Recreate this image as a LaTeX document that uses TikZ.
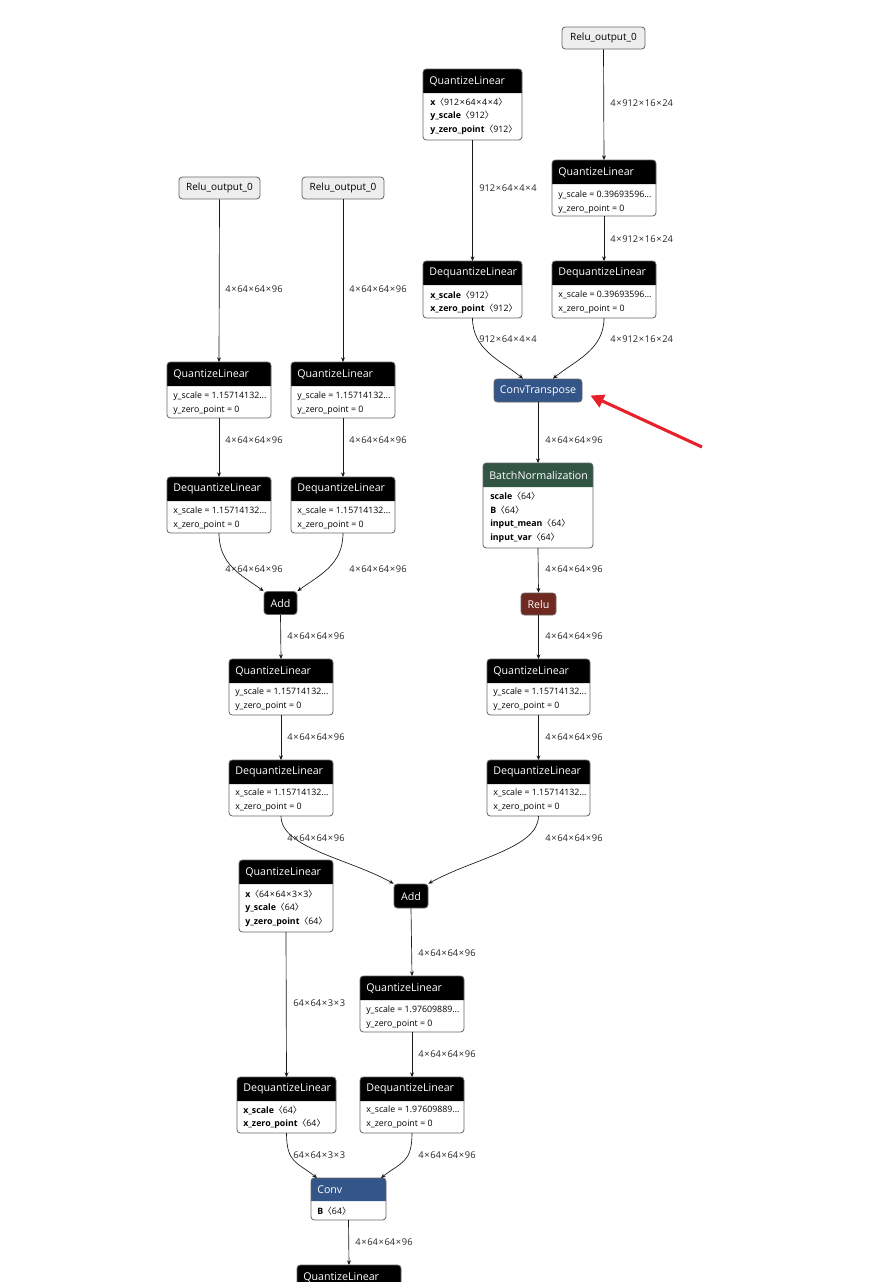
\documentclass[tikz,border=0pt]{standalone}
\usepackage{fontspec}
\setmainfont{Open Sans}
\newfontfamily\cjkf{Noto Sans CJK SC}
\usetikzlibrary{arrows.meta,calc}
\newcommand\myla{{\cjkf 〈}}
\newcommand\myra{{\cjkf 〉}}
\newcommand\tm{\hspace{0.5pt}×\hspace{0.5pt}}
\definecolor{convblue}{HTML}{335588}
\definecolor{normgreen}{HTML}{335544}
\definecolor{actred}{HTML}{702921}
\definecolor{framegray}{HTML}{666666}
\definecolor{inputgray}{HTML}{EEEEEE}
\definecolor{markred}{HTML}{E8202A}
\tikzset{
  opframe/.style={fill=white, draw=none, rounded corners=2.5pt, inner sep=0, outer sep=0},
  titletext/.style={font=\fontsize{8}{9}\selectfont, text=white, inner sep=0},
  attr/.style={font=\fontsize{6.6}{7}\selectfont, anchor=west, inner sep=0},
  elabel/.style={font=\fontsize{7}{8}\selectfont, anchor=west, inner sep=0, text=black!85},
  edge/.style={draw=black!90, line width=0.5pt, -{Stealth[length=3.5pt,width=3pt]}},
  inbox/.style={fill=inputgray, draw=framegray, line width=0.6pt, rounded corners=2.5pt, font=\fontsize{7.5}{9}\selectfont, inner sep=0},
  simplebox/.style={draw=framegray, line width=0.6pt, rounded corners=2.5pt, font=\fontsize{8}{9}\selectfont, text=white, inner sep=0},
  redarrow/.style={draw=markred, line width=2.3pt, -{Triangle[length=10pt,width=10pt]}},
}
% name, x1, y1, x2, yh, y2, colour, title
\newcommand\opbox[8]{%
  \node[opframe, minimum width={(#4-#2)*0.75pt}, minimum height={(#6-#3)*0.75pt}] (#1) at ({(#2+#4)/2},{(#3+#6)/2}) {};
  \fill[#7] (#2,#5) [rounded corners=2.5pt] -- (#2,#3) -- (#4,#3) [sharp corners] -- (#4,#5) -- cycle;
  \draw[framegray, line width=0.6pt, rounded corners=2.5pt] (#1.south west) rectangle (#1.north east);
  \node[titletext, anchor=west] (#1-t) at ({#2+6},{(#3+#5)/2}) {#8};
}
\begin{document}
\begin{tikzpicture}[x=0.75pt, y=-0.75pt]
\useasboundingbox (0,0) rectangle (881,1282);
\fill[white] (0,0) rectangle (881,1282);

% ---------- inputs ----------
\node[inbox, minimum width=83*0.75pt, minimum height=22*0.75pt] (rin1) at (603.5,38) {Relu\_output\_0};
\node[inbox, minimum width=81*0.75pt, minimum height=22*0.75pt] (rinA) at (219.5,188) {Relu\_output\_0};
\node[inbox, minimum width=82*0.75pt, minimum height=22*0.75pt] (rinB) at (343,188) {Relu\_output\_0};

% ---------- top right ----------
\opbox{qA}{423}{69}{522}{93}{140}{black}{QuantizeLinear}
\node[attr] (qA1) at (430,102) {\textbf{x}\myla 912\tm 64\tm 4\tm 4\myra};
\node[attr] (qA2) at (430,116) {\textbf{y\_scale}\myla 912\myra};
\node[attr] (qA3) at (430,130) {\textbf{y\_zero\_point}\myla 912\myra};

\opbox{qB}{552}{160}{656}{184}{216}{black}{QuantizeLinear}
\node[attr] (qB1) at (558,195) {y\_scale = 0.39693596...};
\node[attr] (qB2) at (558,209) {y\_zero\_point = 0};

\opbox{dA}{423}{261}{522}{285}{318}{black}{DequantizeLinear}
\node[attr] (dA1) at (430,295) {\textbf{x\_scale}\myla 912\myra};
\node[attr] (dA2) at (430,309) {\textbf{x\_zero\_point}\myla 912\myra};

\opbox{dB}{552}{261}{656}{285}{318}{black}{DequantizeLinear}
\node[attr] (dB1) at (558,295) {x\_scale = 0.39693596...};
\node[attr] (dB2) at (558,309) {x\_zero\_point = 0};

\node[simplebox, fill=convblue, minimum width=88*0.75pt, minimum height=23*0.75pt] (ct) at (538,390.5) {ConvTranspose};

\opbox{bn}{483}{463}{593}{487}{548}{normgreen}{BatchNormalization}
\node[attr] (bn1) at (490,496) {\textbf{scale}\myla 64\myra};
\node[attr] (bn2) at (490,510) {\textbf{B}\myla 64\myra};
\node[attr] (bn3) at (490,524) {\textbf{input\_mean}\myla 64\myra};
\node[attr] (bn4) at (490,538) {\textbf{input\_var}\myla 64\myra};

\node[simplebox, fill=actred, minimum width=35*0.75pt, minimum height=22*0.75pt] (relu) at (538.5,604) {Relu};

\opbox{qC}{487}{659}{590}{683}{715}{black}{QuantizeLinear}
\node[attr] (qC1) at (493,692) {y\_scale = 1.15714132...};
\node[attr] (qC2) at (493,706) {y\_zero\_point = 0};

\opbox{dC}{487}{760}{590}{784}{816}{black}{DequantizeLinear}
\node[attr] (dC1) at (493,793) {x\_scale = 1.15714132...};
\node[attr] (dC2) at (493,807) {x\_zero\_point = 0};

% ---------- left ----------
\opbox{qL1}{167}{362}{271}{386}{418}{black}{QuantizeLinear}
\node[attr] (qL1a) at (173,396) {y\_scale = 1.15714132...};
\node[attr] (qL1b) at (173,410) {y\_zero\_point = 0};
\opbox{qL2}{291}{362}{395}{386}{418}{black}{QuantizeLinear}
\node[attr] (qL2a) at (297,396) {y\_scale = 1.15714132...};
\node[attr] (qL2b) at (297,410) {y\_zero\_point = 0};

\opbox{dL1}{167}{477}{271}{501}{533}{black}{DequantizeLinear}
\node[attr] (dL1a) at (173,511) {x\_scale = 1.15714132...};
\node[attr] (dL1b) at (173,525) {x\_zero\_point = 0};
\opbox{dL2}{291}{477}{395}{501}{533}{black}{DequantizeLinear}
\node[attr] (dL2a) at (297,511) {x\_scale = 1.15714132...};
\node[attr] (dL2b) at (297,525) {x\_zero\_point = 0};

\node[simplebox, fill=black, minimum width=33*0.75pt, minimum height=23*0.75pt] (add1) at (280.5,603) {Add};

\opbox{qM}{229}{659}{333}{683}{715}{black}{QuantizeLinear}
\node[attr] (qMa) at (235,692) {y\_scale = 1.15714132...};
\node[attr] (qMb) at (235,706) {y\_zero\_point = 0};
\opbox{dM}{229}{760}{333}{784}{816}{black}{DequantizeLinear}
\node[attr] (dMa) at (235,793) {x\_scale = 1.15714132...};
\node[attr] (dMb) at (235,807) {x\_zero\_point = 0};

\node[simplebox, fill=black, minimum width=34*0.75pt, minimum height=24*0.75pt] (add2) at (411,896) {Add};

\opbox{qW}{239}{860}{333}{884}{932}{black}{QuantizeLinear}
\node[attr] (qWa) at (245,894) {\textbf{x}\myla 64\tm 64\tm 3\tm 3\myra};
\node[attr] (qWb) at (245,908) {\textbf{y\_scale}\myla 64\myra};
\node[attr] (qWc) at (245,922) {\textbf{y\_zero\_point}\myla 64\myra};

\opbox{qN}{360}{976}{464}{1000}{1032}{black}{QuantizeLinear}
\node[attr] (qNa) at (366,1010) {y\_scale = 1.97609889...};
\node[attr] (qNb) at (366,1024) {y\_zero\_point = 0};

\opbox{dW}{237}{1077}{336}{1101}{1133}{black}{DequantizeLinear}
\node[attr] (dWa) at (243,1110) {\textbf{x\_scale}\myla 64\myra};
\node[attr] (dWb) at (243,1124) {\textbf{x\_zero\_point}\myla 64\myra};

\opbox{dN}{360}{1077}{464}{1101}{1133}{black}{DequantizeLinear}
\node[attr] (dNa) at (366,1110) {x\_scale = 1.97609889...};
\node[attr] (dNb) at (366,1124) {x\_zero\_point = 0};

\opbox{conv}{311}{1178}{386}{1201}{1220}{convblue}{Conv}
\node[attr] (conva) at (317,1211) {\textbf{B}\myla 64\myra};

\opbox{qO}{297}{1265}{401}{1289}{1310}{black}{QuantizeLinear}

% ---------- edges ----------
\draw[edge] (rin1.south) -- (qB.north);
\draw[edge] (qA.south) -- (dA.north);
\draw[edge] (qB.south) -- (dB.north);
\draw[edge] (dA.south) .. controls +(0,32) and +(-22,-18) .. ($(ct.north)+(-15,0)$);
\draw[edge] (dB.south) .. controls +(0,32) and +(22,-18) .. ($(ct.north)+(15,0)$);
\draw[edge] (ct.south) -- (bn.north);
\draw[edge] (bn.south) -- (relu.north);
\draw[edge] (relu.south) -- (qC.north);
\draw[edge] (qC.south) -- (dC.north);
\draw[edge] (dC.south) .. controls +(0,32) and +(45,-25) .. (add2.north east);

\draw[edge] (rinA.south) -- (qL1.north);
\draw[edge] (rinB.south) -- (qL2.north);
\draw[edge] (qL1.south) -- (dL1.north);
\draw[edge] (qL2.south) -- (dL2.north);
\draw[edge] (dL1.south) .. controls +(0,32) and +(-22,-16) .. (add1.north west);
\draw[edge] (dL2.south) .. controls +(0,32) and +(22,-16) .. (add1.north east);
\draw[edge] (add1.south) -- (qM.north);
\draw[edge] (qM.south) -- (dM.north);
\draw[edge] (dM.south) .. controls +(0,32) and +(-45,-25) .. (add2.north west);
\draw[edge] (add2.south) -- (qN.north);
\draw[edge] (qN.south) -- (dN.north);
\draw[edge] (qW.south) -- (dW.north);
\draw[edge] (dW.south) .. controls +(0,30) and +(-20,-16) .. ($(conv.north west)+(6,0)$);
\draw[edge] (dN.south) .. controls +(0,30) and +(20,-16) .. ($(conv.north east)+(-5,0)$);
\draw[edge] (conv.south) -- (qO.north);

% ---------- edge labels ----------
\node[elabel] (l1) at (610,103) {4\tm 912\tm 16\tm 24};
\node[elabel] (l2) at (479,188) {912\tm 64\tm 4\tm 4};
\node[elabel] (l3) at (610,239) {4\tm 912\tm 16\tm 24};
\node[elabel] (l4) at (479,339) {912\tm 64\tm 4\tm 4};
\node[elabel] (l5) at (610,339) {4\tm 912\tm 16\tm 24};
\node[elabel] (l6) at (545,440) {4\tm 64\tm 64\tm 96};
\node[elabel] (l7) at (545,569) {4\tm 64\tm 64\tm 96};
\node[elabel] (l8) at (545,636) {4\tm 64\tm 64\tm 96};
\node[elabel] (l9) at (545,737) {4\tm 64\tm 64\tm 96};
\node[elabel] (l10) at (545,838) {4\tm 64\tm 64\tm 96};
\node[elabel] (l11) at (225,289) {4\tm 64\tm 64\tm 96};
\node[elabel] (l12) at (349,289) {4\tm 64\tm 64\tm 96};
\node[elabel] (l13) at (225,440) {4\tm 64\tm 64\tm 96};
\node[elabel] (l14) at (349,440) {4\tm 64\tm 64\tm 96};
\node[elabel] (l15) at (225,569) {4\tm 64\tm 64\tm 96};
\node[elabel] (l16) at (349,569) {4\tm 64\tm 64\tm 96};
\node[elabel] (l17) at (287,636) {4\tm 64\tm 64\tm 96};
\node[elabel] (l18) at (287,737) {4\tm 64\tm 64\tm 96};
\node[elabel] (l19) at (287,838) {4\tm 64\tm 64\tm 96};
\node[elabel] (l20) at (418,953) {4\tm 64\tm 64\tm 96};
\node[elabel] (l21) at (293,1003) {64\tm 64\tm 3\tm 3};
\node[elabel] (l22) at (418,1054) {4\tm 64\tm 64\tm 96};
\node[elabel] (l23) at (293,1155) {64\tm 64\tm 3\tm 3};
\node[elabel] (l24) at (418,1155) {4\tm 64\tm 64\tm 96};
\node[elabel] (l25) at (355,1242) {4\tm 64\tm 64\tm 96};

% ---------- red pointer ----------
\coordinate (rtail) at (702,447);
\draw[redarrow] (rtail) -- ($(ct.east)+(8,5)$);
\end{tikzpicture}
\end{document}
